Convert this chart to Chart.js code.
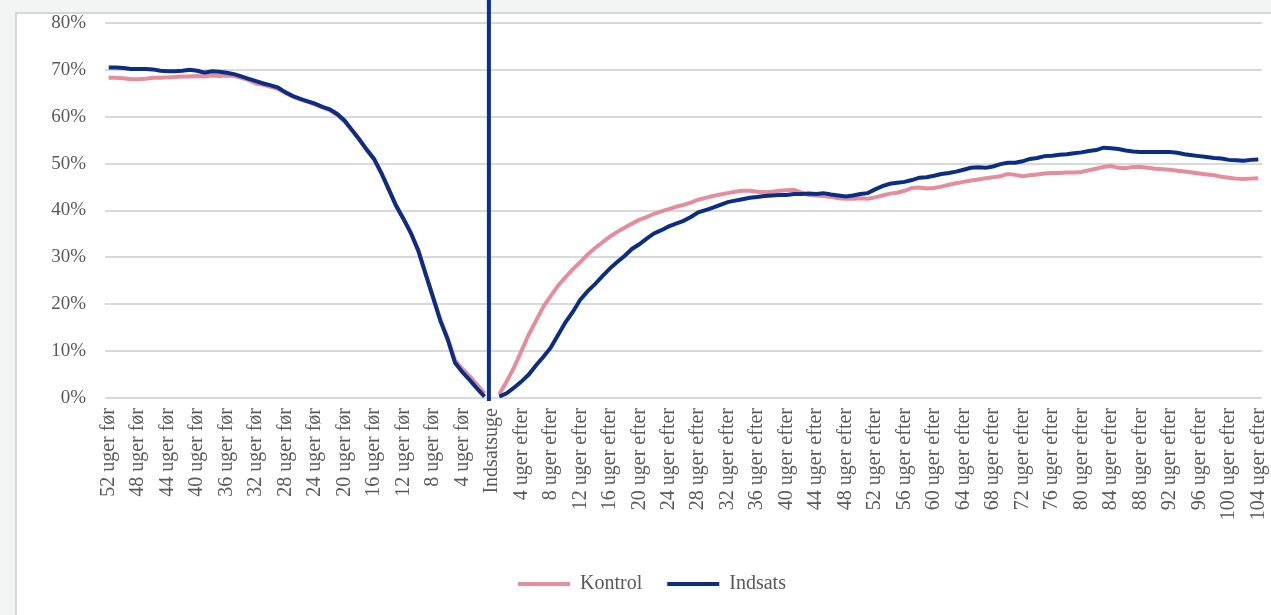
<!DOCTYPE html>
<html>
<head>
<meta charset="utf-8">
<script src="https://cdn.jsdelivr.net/npm/chart.js@4.4.1/dist/chart.umd.min.js"></script>
<style>
  html, body { margin: 0; padding: 0; background: #f3f5f5; width: 1271px; height: 615px; overflow: hidden; }
  #box { position: absolute; left: 15px; top: 12px; width: 1300px; height: 700px; background: #ffffff; border-left: 2px solid #d6d6d6; border-top: 2px solid #d6d6d6; }
  #wrap { position: absolute; left: 0; top: 0; width: 1271px; height: 615px; }
</style>
</head>
<body>
<div id="box"></div>
<div id="wrap"><canvas id="c" width="1271" height="615"></canvas></div>
<script>
// Weeks before (52 .. 1), intervention week, weeks after (1 .. 104)
const weeksBefore = [];
for (let w = 52; w >= 1; w--) weeksBefore.push(w);
const weeksAfter = [];
for (let w = 1; w <= 104; w++) weeksAfter.push(w);

const categories = [
  ...weeksBefore.map(w => w === 1 ? '1 uge før' : w + ' uger før'),
  'Indsatsuge',
  ...weeksAfter.map(w => w === 1 ? '1 uge efter' : w + ' uger efter')
];

const yTicks = [0, 10, 20, 30, 40, 50, 60, 70, 80];

// Kontrol (percent), 52 uger før .. 1 uge før
const kontrolBefore = [
  68.3, 68.3, 68.2, 68.0, 68.0, 68.1, 68.3, 68.3, 68.4, 68.5,
  68.6, 68.6, 68.7, 68.6, 68.8, 68.7, 68.8, 68.7, 68.3, 67.8,
  67.1, 66.8, 66.4, 65.9, 65.0, 64.3, 63.7, 63.2, 62.6, 62.0,
  61.4, 60.4, 59.0, 57.1, 55.1, 53.0, 51.0, 48.0, 44.6, 41.1,
  38.3, 35.3, 31.6, 26.6, 21.7, 16.8, 12.8, 8.0, 6.2, 4.6,
  2.8, 1.0
];
// Kontrol, 1 uge efter .. 104 uger efter
const kontrolAfter = [
  0.8, 3.5, 6.5, 10.0, 13.5, 16.5, 19.5, 21.8, 24.0, 25.8,
  27.5, 29.0, 30.6, 32.0, 33.2, 34.4, 35.4, 36.3, 37.2, 38.0,
  38.6, 39.3, 39.8, 40.3, 40.8, 41.2, 41.7, 42.3, 42.7, 43.1,
  43.4, 43.7, 44.0, 44.2, 44.2, 44.0, 43.9, 44.0, 44.2, 44.3,
  44.4, 43.8, 43.3, 43.2, 43.1, 42.9, 42.6, 42.5, 42.5, 42.6,
  42.5, 42.8, 43.2, 43.6, 43.8, 44.2, 44.8, 44.9, 44.7, 44.8,
  45.1, 45.5, 45.8, 46.1, 46.4, 46.6, 46.9, 47.1, 47.3, 47.8,
  47.6, 47.3, 47.5, 47.7, 47.9, 48.0, 48.0, 48.1, 48.1, 48.2,
  48.6, 48.9, 49.3, 49.5, 49.1, 49.0, 49.3, 49.3, 49.1, 48.9,
  48.8, 48.7, 48.5, 48.3, 48.1, 47.9, 47.7, 47.5, 47.2, 47.0,
  46.8, 46.7, 46.8, 46.9
];
// Indsats, 52 uger før .. 1 uge før
const indsatsBefore = [
  70.5, 70.5, 70.4, 70.2, 70.2, 70.2, 70.1, 69.8, 69.7, 69.7,
  69.8, 70.0, 69.8, 69.4, 69.7, 69.6, 69.4, 69.1, 68.6, 68.1,
  67.6, 67.1, 66.7, 66.2, 65.2, 64.4, 63.8, 63.3, 62.8, 62.1,
  61.6, 60.6, 59.2, 57.2, 55.2, 53.0, 51.0, 48.0, 44.5, 41.0,
  38.2, 35.2, 31.5, 26.5, 21.5, 16.5, 12.5, 7.5, 5.5, 3.8,
  2.0, 0.3
];
// Indsats, 1 uge efter .. 104 uger efter
const indsatsAfter = [
  0.3, 1.0, 2.2, 3.5, 5.0, 7.0, 8.8, 10.8, 13.5, 16.2,
  18.4, 21.0, 22.8, 24.3, 26.0, 27.6, 29.0, 30.3, 31.8, 32.8,
  34.0, 35.1, 35.8, 36.6, 37.2, 37.8, 38.6, 39.6, 40.1, 40.6,
  41.2, 41.8, 42.1, 42.4, 42.7, 42.9, 43.1, 43.2, 43.3, 43.3,
  43.5, 43.5, 43.6, 43.5, 43.7, 43.4, 43.2, 43.0, 43.2, 43.5,
  43.7, 44.5, 45.2, 45.7, 45.9, 46.1, 46.5, 47.0, 47.1, 47.4,
  47.8, 48.0, 48.3, 48.7, 49.1, 49.2, 49.1, 49.4, 49.9, 50.2,
  50.2, 50.5, 51.0, 51.2, 51.6, 51.7, 51.9, 52.0, 52.2, 52.4,
  52.7, 52.9, 53.4, 53.3, 53.1, 52.8, 52.6, 52.5, 52.5, 52.5,
  52.5, 52.5, 52.3, 52.0, 51.8, 51.6, 51.4, 51.2, 51.1, 50.8,
  50.7, 50.6, 50.8, 50.9
];

const kontrol = [...kontrolBefore, null, ...kontrolAfter];
const indsats = [...indsatsBefore, null, ...indsatsAfter];
const interventionLabel = 'Indsatsuge';

const PINK = '#e48d9c';
const NAVY = '#0b2d84';
const VLINE = '#0a2f93';
const TEXT = '#595959';
const FONT = "'Liberation Serif', 'Times New Roman', serif";

const interventionLine = {
  id: 'interventionLine',
  afterDatasetsDraw(chart) {
    const xs = chart.scales.x;
    const idx = categories.indexOf(interventionLabel);
    const x = xs.getPixelForValue(idx) - 3;
    const ctx = chart.ctx;
    ctx.save();
    ctx.strokeStyle = VLINE;
    ctx.lineWidth = 4;
    ctx.beginPath();
    ctx.moveTo(x, 0);
    ctx.lineTo(x, chart.chartArea.bottom + 3);
    ctx.stroke();
    ctx.restore();
  }
};

new Chart(document.getElementById('c'), {
  type: 'line',
  data: {
    labels: categories,
    datasets: [
      { label: 'Kontrol', data: kontrol, borderColor: PINK, backgroundColor: PINK, borderWidth: 4, pointRadius: 0, tension: 0, spanGaps: false, order: 1 },
      { label: 'Indsats', data: indsats, borderColor: NAVY, backgroundColor: NAVY, borderWidth: 4, pointRadius: 0, tension: 0, spanGaps: false, order: 0 }
    ]
  },
  options: {
    responsive: false,
    animation: false,
    events: [],
    layout: { padding: { left: 42, right: 9, top: 23, bottom: 11 } },
    plugins: {
      tooltip: { enabled: false },
      legend: {
        position: 'bottom',
        labels: {
          boxWidth: 52,
          boxHeight: 4,
          padding: 25,
          color: TEXT,
          font: { family: FONT, size: 20 },
          sort: (a, b) => a.datasetIndex - b.datasetIndex,
          generateLabels(chart) {
            const items = Chart.defaults.plugins.legend.labels.generateLabels(chart);
            items.forEach(it => { it.lineWidth = 0; it.fillStyle = it.strokeStyle; });
            return items;
          }
        }
      }
    },
    scales: {
      x: {
        offset: true,
        grid: { display: false, offset: true },
        border: { display: false },
        ticks: {
          autoSkip: false,
          maxRotation: 90,
          minRotation: 90,
          padding: 2,
          color: TEXT,
          font: { family: FONT, size: 20 },
          callback(value, index) { return index % 4 === 0 ? categories[index] : ''; }
        },
        afterFit(scale) { scale.height = 151; scale.paddingLeft = 0; scale.paddingRight = 0; }
      },
      y: {
        min: 0,
        max: 80,
        afterBuildTicks(scale) { scale.ticks = yTicks.map(v => ({ value: v })); },
        grid: { color: '#d9d9d9', lineWidth: 2, drawTicks: false },
        border: { display: false },
        ticks: {
          padding: 19,
          color: TEXT,
          font: { family: FONT, size: 19 },
          callback(v) { return v + '%'; }
        },
        afterFit(scale) { scale.width = 63; scale.paddingTop = 0; scale.paddingBottom = 0; }
      }
    }
  },
  plugins: [interventionLine]
});
</script>
</body>
</html>
